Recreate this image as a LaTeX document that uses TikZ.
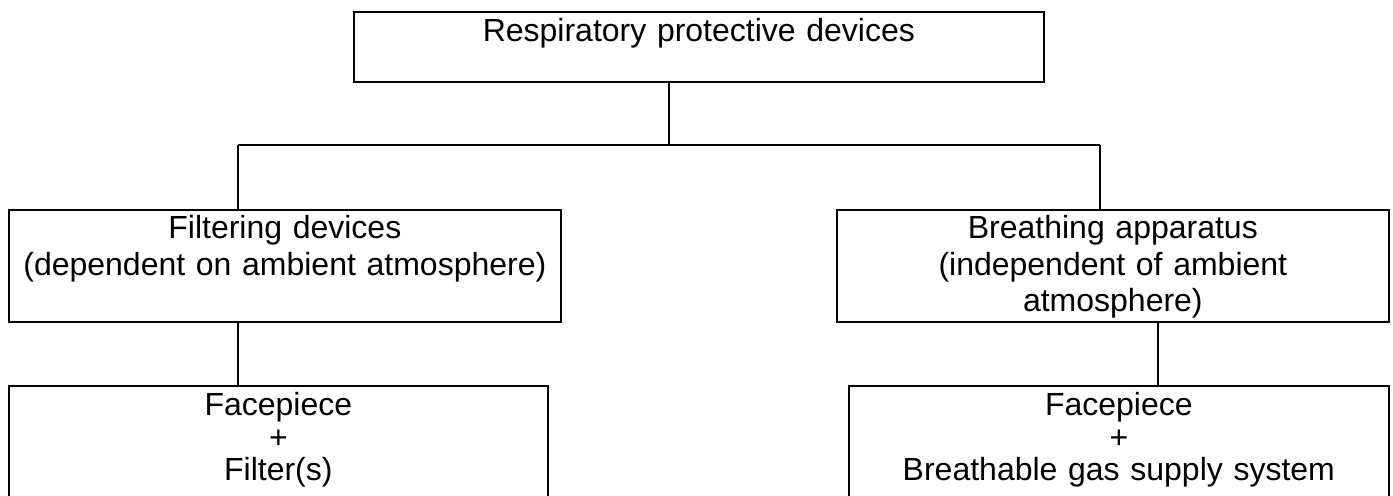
\documentclass[tikz,border=0pt]{standalone}
\usepackage{fontspec}
\setmainfont{Liberation Sans}
\usetikzlibrary{positioning}
\usetikzlibrary{calc}

\begin{document}
\begin{tikzpicture}[x=0.5pt, y=-0.5pt, line width=0.85pt, draw=black, font=\fontsize{16}{18.25}\selectfont]
		\tikzstyle{block}=[draw=black, rectangle, fill=none, inner sep=0pt, align=center, anchor=north west]
		\tikzstyle{mid}=[block, text width=276pt, text height=14.5pt, text depth=41.5pt]
		\tikzstyle{low}=[block, text height=15pt, text depth=42.5pt, font=\fontsize{16}{16.25}\selectfont]
		
		\useasboundingbox (0,0) rectangle (1393,496);
		
		\node[block, text width=345pt, text height=15pt, text depth=20pt] (rpd) at (353,11) {Respiratory protective devices};
		\node[mid] (filt) at (8,209) {Filtering devices\\(dependent on ambient atmosphere)};
		\node[mid] (breath) at (836,209) {Breathing apparatus\\(independent of ambient\\atmosphere)};
		\node[low, text width=269.5pt] (fpfilt) at (8,385) {Facepiece\\+\\Filter(s)};
		\node[low, text width=270pt] (fpgas) at (848,385) {Facepiece\\+\\Breathable gas supply system};
		
		\coordinate (split) at (669,145);
		\coordinate (lsplit) at (238,145);
		\coordinate (rsplit) at (1100,145);
		\coordinate (rdrop) at (1158,321);
		
		\draw (rpd.south -| split) -- (split);
		\draw (lsplit) -- (rsplit);
		\draw (lsplit) -- (lsplit |- filt.north);
		\draw (rsplit) -- (rsplit |- breath.north);
		\draw (filt.south -| lsplit) -- (fpfilt.north -| lsplit);
		\draw (breath.south -| rdrop) -- (fpgas.north -| rdrop);
	\end{tikzpicture}
\end{document}
